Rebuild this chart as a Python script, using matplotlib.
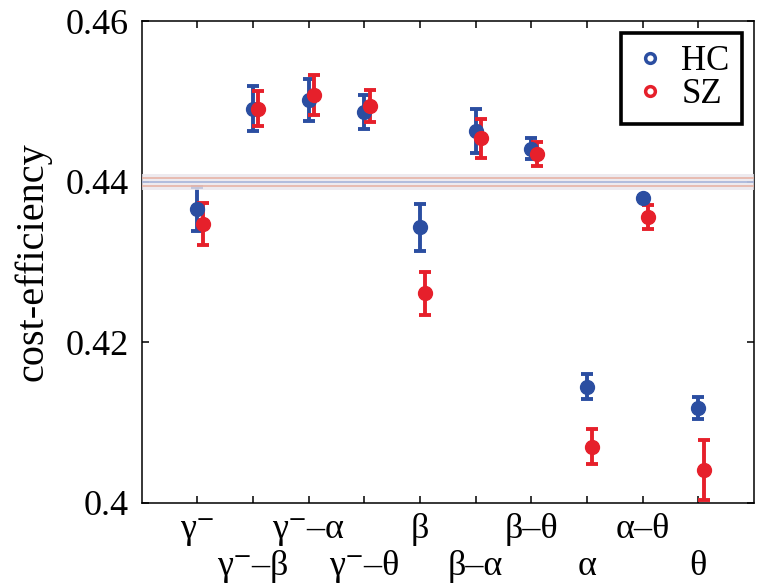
import matplotlib
matplotlib.use("Agg")
import matplotlib.pyplot as plt
from matplotlib.lines import Line2D

plt.rcParams['font.family'] = ['Liberation Serif', 'DejaVu Serif']

# bands on the x axis (odd ones in the top row, even ones in the bottom row)
bands = ["γ⁻", "γ⁻–β", "γ⁻–α", "γ⁻–θ", "β", "β–α", "β–θ", "α", "α–θ", "θ"]

# cost-efficiency, mean and error bar half-height
hc_mean = [0.4366, 0.4491, 0.4502, 0.4487, 0.4343, 0.4463, 0.4441, 0.4145, 0.4380, 0.4118]
hc_err = [0.0028, 0.0028, 0.0026, 0.0021, 0.0029, 0.0027, 0.0013, 0.0015, 0.0002, 0.0014]
sz_mean = [0.4347, 0.4491, 0.4508, 0.4494, 0.4261, 0.4454, 0.4434, 0.4070, 0.4356, 0.4041]
sz_err = [0.0026, 0.0022, 0.0025, 0.0020, 0.0027, 0.0024, 0.0015, 0.0022, 0.0015, 0.0037]

# reference level with its spread
ref_mean = 0.4400
ref_lo, ref_hi = 0.4395, 0.4405
band_lo, band_hi = 0.4390, 0.4409

blue = '#2b4ea1'
red = '#e6202b'

fig = plt.figure(figsize=(7.63, 5.85), dpi=100)
ax = fig.add_axes([0.1855, 0.1402, 0.8025, 0.8238])

x_hc = list(range(1, len(bands) + 1))
x_sz = [i + 0.1 for i in x_hc]

ax.errorbar(x_hc, hc_mean, yerr=hc_err, fmt='o', color=blue, ms=10,
            elinewidth=2.8, capsize=4.5, capthick=2.8, zorder=2)
ax.errorbar(x_sz, sz_mean, yerr=sz_err, fmt='o', color=red, ms=10,
            elinewidth=2.8, capsize=4.5, capthick=2.8, zorder=2)

ax.axhspan(band_lo, band_hi, color='#e9e5ec', alpha=0.8, lw=0, zorder=3)
ax.axhline(ref_lo, color='#e6b3a6', lw=1.2, zorder=4)
ax.axhline(ref_hi, color='#e6b3a6', lw=1.2, zorder=4)
ax.axhline(ref_mean, color='#a7b4da', lw=1.2, zorder=4)

ax.set_xlim(0, 11)
ax.set_ylim(0.4, 0.46)
ax.set_yticks([0.4, 0.42, 0.44, 0.46])
ax.set_yticklabels(["0.4", "0.42", "0.44", "0.46"])
ax.set_xticks(x_hc[0::2], labels=bands[0::2])
ax.set_xticks(x_hc[1::2], labels=bands[1::2], minor=True)

ax.tick_params(axis='both', which='both', direction='in', top=True, right=True,
               length=5, width=1.1, labelsize=26)
ax.tick_params(axis='x', which='major', pad=7)
ax.tick_params(axis='x', which='minor', pad=34)
ax.tick_params(axis='y', pad=9)
for s in ax.spines.values():
    s.set_linewidth(1.1)

ax.set_ylabel("cost-efficiency", fontsize=29, labelpad=10)

handles = [Line2D([], [], ls='none', marker='o', mfc='none', mec=blue, mew=2.5, ms=7),
           Line2D([], [], ls='none', marker='o', mfc='none', mec=red, mew=2.5, ms=7)]
leg = ax.legend(handles, ["HC", "SZ"], loc='upper right', fontsize=25, fancybox=False,
                framealpha=1, edgecolor='black', borderaxespad=0.35, handlelength=1.0,
                handletextpad=0.4, labelspacing=0.0, borderpad=0.35)
leg.get_frame().set_linewidth(2.6)

fig.savefig("out.png", dpi=100)
